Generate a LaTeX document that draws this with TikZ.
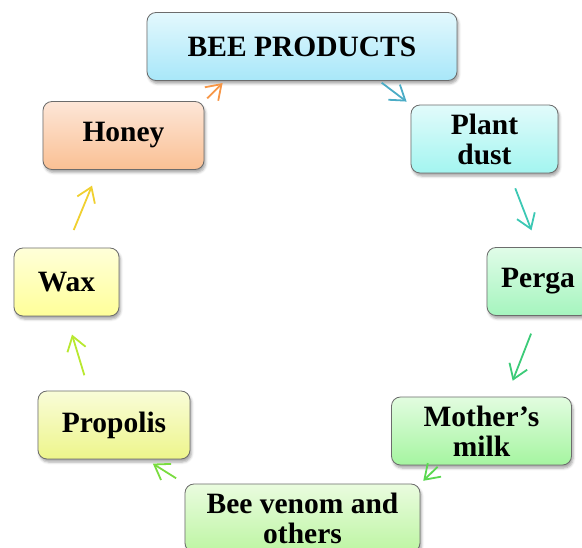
\documentclass[tikz,border=0pt]{standalone}
\usepackage{fontspec}
\setmainfont{Liberation Serif}
\usetikzlibrary{arrows.meta,shadows.blur}

\definecolor{beetop}{HTML}{E3F8FD}\definecolor{beebot}{HTML}{A8E7F9}
\definecolor{planttop}{HTML}{E2FBFB}\definecolor{plantbot}{HTML}{A3F5F0}
\definecolor{pergatop}{HTML}{E0FCE8}\definecolor{pergabot}{HTML}{A5F5BE}
\definecolor{milktop}{HTML}{E2FCE0}\definecolor{milkbot}{HTML}{A5F5A0}
\definecolor{venomtop}{HTML}{EAFCDF}\definecolor{venombot}{HTML}{BDF5A3}
\definecolor{proptop}{HTML}{F9FCD8}\definecolor{propbot}{HTML}{EDF58B}
\definecolor{waxtop}{HTML}{FFFFD9}\definecolor{waxbot}{HTML}{FFFF99}
\definecolor{honeytop}{HTML}{FDE6D8}\definecolor{honeybot}{HTML}{FAC093}

\begin{document}
\begin{tikzpicture}[x=1pt, y=-1pt,
  box/.style={draw=gray!85!black, line width=0.8pt, rounded corners=9pt, align=center,
    inner sep=0pt, minimum height=68pt, font=\fontsize{29.5}{30}\selectfont\bfseries,
    blur shadow={shadow xshift=1.5pt, shadow yshift=-3pt, shadow blur radius=2.5pt, shadow opacity=35}},
  arrow/.style={-{Straight Barb[length=14pt, width=19pt]}, line width=1.8pt}]

\useasboundingbox (0,0) rectangle (582,548);

%glavni pojam
\node (bee) [box, minimum width=310pt, top color=beetop, bottom color=beebot] at (302,46.5) {BEE PRODUCTS};

%desna strana kruga
\node (plant) [box, minimum width=147pt, top color=planttop, bottom color=plantbot] at (484.5,139) {Plant\\dust};
\node (perga) [box, minimum width=102pt, top color=pergatop, bottom color=pergabot] at (538,281.5) {Perga};
\node (milk) [box, minimum width=180pt, top color=milktop, bottom color=milkbot] at (481.5,431) {Mother’s\\milk};

%donji dio
\node (venom) [box, minimum width=235pt, top color=venomtop, bottom color=venombot] at (302.5,518) {Bee venom and\\others};

%lijeva strana kruga
\node (propolis) [box, minimum width=152pt, top color=proptop, bottom color=propbot] at (114,425) {Propolis};
\node (wax) [box, minimum width=105pt, top color=waxtop, bottom color=waxbot] at (66.5,282) {Wax};
\node (honey) [box, minimum width=161pt, top color=honeytop, bottom color=honeybot] at (123.5,135.5) {Honey};

%strelice u krug
\draw[arrow, color={rgb,255:red,247;green,150;blue,70}, shorten <=4pt, shorten >=3pt] (honey.north east) -- (bee.-156);
\draw[arrow, color={rgb,255:red,75;green,172;blue,198}, shorten <=3pt, shorten >=5pt] (bee.-24) -- (plant.north west);
\draw[arrow, color={rgb,255:red,60;green,200;blue,180}, shorten <=16pt, shorten >=18pt] (plant.-54) -- (perga.north);
\draw[arrow, color={rgb,255:red,60;green,203;blue,120}, shorten <=19pt, shorten >=17pt] (perga.south) -- (milk.54);
\draw[arrow, color={rgb,255:red,90;green,216;blue,80}, shorten <=2pt, shorten >=4pt] (milk.-141) -- (venom.north east);
\draw[arrow, color={rgb,255:red,122;green,220;blue,64}, shorten <=10pt, shorten >=8pt] (venom.north west) -- (propolis.-47);
\draw[arrow, color={rgb,255:red,184;green,232;blue,48}, shorten <=16pt, shorten >=19pt] (propolis.126) -- (wax.south);
\draw[arrow, color={rgb,255:red,240;green,208;blue,48}, shorten <=19pt, shorten >=17pt] (wax.north) -- (honey.-126);

\end{tikzpicture}
\end{document}
